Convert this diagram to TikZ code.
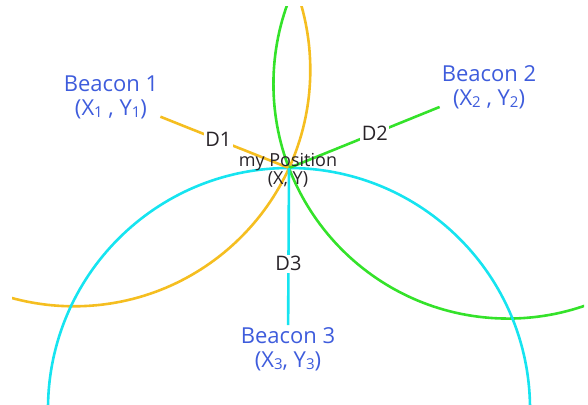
\documentclass[tikz,border=0pt]{standalone}
\usepackage{fontspec}
\setmainfont{Open Sans}
\usepackage{xcolor}
\usepackage{tikz}
\usetikzlibrary{calc}

\definecolor{beaconblue}{RGB}{62,92,220}
\definecolor{ringorange}{RGB}{245,190,32}
\definecolor{ringgreen}{RGB}{52,226,42}
\definecolor{ringcyan}{RGB}{22,228,240}
\definecolor{labelgray}{RGB}{40,35,40}

\newcommand{\bsub}[1]{\raisebox{-2pt}{\fontsize{15}{15}\selectfont #1}}

\begin{document}
\begin{tikzpicture}[
x=1pt, y=-1pt,
beacon/.style={
text=beaconblue,
align=center,
inner sep=2pt,
font=\fontsize{22}{24}\selectfont
},
dist/.style={
fill=white,
text=labelgray,
inner sep=1.5pt,
font=\fontsize{20}{20}\selectfont
},
posn/.style={
text=labelgray,
align=center,
inner sep=0pt,
font=\fontsize{18}{16}\selectfont
},
ring/.style={
line width=2.6pt
}
]

\useasboundingbox (0,0) rectangle (588,404);

% Points
\coordinate (P) at (289,168);
\coordinate (c1) at (74,70);
\coordinate (c2) at (508,84);
\coordinate (c3) at (289,409);

% Circles
\begin{scope}
\clip (12,7) rectangle (584,404);
\draw[ring, ringorange] let \p1 = ($(P)-(c1)$), \n1 = {veclen(\x1,\y1)} in (c1) circle (\n1);
\draw[ring, ringgreen] let \p1 = ($(P)-(c2)$), \n1 = {veclen(\x1,\y1)} in (c2) circle (\n1);
\draw[ring, ringcyan] let \p1 = ($(P)-(c3)$), \n1 = {veclen(\x1,\y1)} in (c3) circle (\n1);
\end{scope}

% Beacons
\node[beacon] (b1) at (111,97) {Beacon 1\\(X\bsub{1} , Y\bsub{1})};
\node[beacon] (b2) at (489,87) {Beacon 2\\(X\bsub{2} , Y\bsub{2})};
\node[beacon] (b3) at (288,349) {Beacon 3\\(X\bsub{3}, Y\bsub{3})};

% Distances
\draw[ring, ringorange] (b1) -- node[dist, pos=0.45] {D1} (P);
\draw[ring, ringgreen] (b2) -- node[dist, pos=0.43] {D2} (P);
\draw[ring, ringcyan] (b3) -- node[dist, pos=0.39] {D3} (P);

% Position
\node[posn] (pos) at (288,170) {my Position\\(X, Y)};

\end{tikzpicture}
\end{document}
